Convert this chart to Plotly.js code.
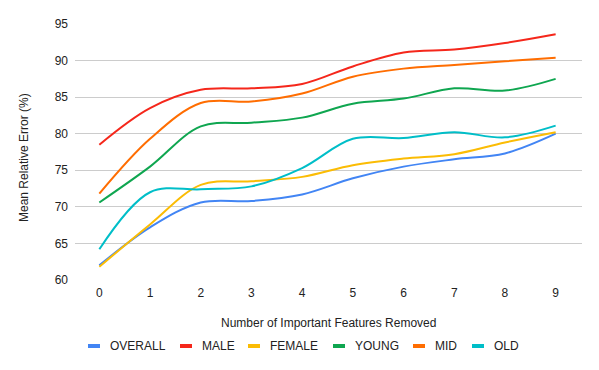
<!DOCTYPE html>
<html>
<head>
<meta charset="utf-8">
<script src="https://cdn.plot.ly/plotly-3.0.1.min.js"></script>
<style>html,body{margin:0;padding:0;background:#fff;}#chart{width:599px;height:370px;}</style>
</head>
<body>
<div id="chart"></div>
<script>
const featuresRemoved = [0, 1, 2, 3, 4, 5, 6, 7, 8, 9];
const seriesNames = ["OVERALL", "MALE", "FEMALE", "YOUNG", "MID", "OLD"];
const overall = [62.0, 67.2, 70.6, 70.8, 71.7, 73.9, 75.5, 76.5, 77.3, 80.0];
const male    = [78.5, 83.5, 86.0, 86.2, 86.8, 89.2, 91.1, 91.5, 92.4, 93.6];
const female  = [61.8, 67.6, 73.0, 73.5, 74.1, 75.7, 76.6, 77.2, 78.8, 80.2];
const young   = [70.6, 75.5, 81.0, 81.5, 82.2, 84.1, 84.8, 86.2, 85.9, 87.5];
const mid     = [71.8, 79.3, 84.2, 84.4, 85.5, 87.8, 88.9, 89.4, 89.9, 90.4];
const old     = [64.2, 72.0, 72.4, 72.8, 75.3, 79.3, 79.4, 80.2, 79.5, 81.1];
const yTicks = [60, 65, 70, 75, 80, 85, 90, 95];
const xTitle = "Number of Important Features Removed";
const yTitle = "Mean Relative Error (%)";

const values = [overall, male, female, young, mid, old];
const colors = ["#4285F4", "#F5271B", "#FBBC04", "#0FA650", "#FF6D01", "#00BEC8"];

const L = 75, R = 17, T = 24, B = 90, W = 599, H = 370;
const pw = W - L - R, ph = H - T - B;
const px2x = p => (p - L) / pw;
const px2y = p => (H - B - p) / ph;

const traces = values.map((v, i) => ({
  x: featuresRemoved, y: v, name: seriesNames[i], type: 'scatter', mode: 'lines',
  line: {color: colors[i], width: 2, shape: 'spline', smoothing: 1},
  showlegend: false, hoverinfo: 'skip'
}));

// legend built from names & colors
const legendMarkerLeft = [88, 180, 248, 333, 413, 472];
const legendY = 346;
const shapes = [];
const annotations = [];
seriesNames.forEach((n, i) => {
  shapes.push({type: 'rect', xref: 'paper', yref: 'paper',
    x0: px2x(legendMarkerLeft[i]), x1: px2x(legendMarkerLeft[i] + 12),
    y0: px2y(legendY + 2), y1: px2y(legendY - 2),
    fillcolor: colors[i], line: {width: 0}});
  annotations.push({text: n, xref: 'paper', yref: 'paper', showarrow: false,
    x: px2x(legendMarkerLeft[i] + 20), y: px2y(legendY), xanchor: 'left', yanchor: 'middle',
    font: {family: 'Liberation Sans, Arial, sans-serif', size: 12, color: '#222'}});
});
annotations.push({text: yTitle, xref: 'paper', yref: 'paper', showarrow: false,
  x: px2x(24), y: px2y(158), xanchor: 'center', yanchor: 'middle', textangle: -90,
  font: {family: 'Liberation Sans, Arial, sans-serif', size: 12, color: '#222'}});
annotations.push({text: xTitle, xref: 'paper', yref: 'paper', showarrow: false,
  x: px2x(328), y: px2y(322.5), xanchor: 'center', yanchor: 'middle',
  font: {family: 'Liberation Sans, Arial, sans-serif', size: 12, color: '#222'}});

const layout = {
  width: W, height: H,
  margin: {l: L, r: R, t: T, b: B, pad: 0},
  paper_bgcolor: '#fff', plot_bgcolor: '#fff',
  font: {family: 'Liberation Sans, Arial, sans-serif', size: 12, color: '#222'},
  xaxis: {range: [-0.48, 9.52], tickvals: featuresRemoved, showgrid: false, zeroline: false,
    showline: false, ticks: '', ticklabelstandoff: 4, fixedrange: true},
  yaxis: {range: [60, 95], tickvals: yTicks, showgrid: true, gridcolor: '#cccccc', gridwidth: 1,
    zeroline: false, showline: false, ticks: '', ticklabelstandoff: 6, fixedrange: true},
  shapes: shapes,
  annotations: annotations,
  showlegend: false
};

Plotly.newPlot('chart', traces, layout, {displayModeBar: false, staticPlot: true});
</script>
</body>
</html>
